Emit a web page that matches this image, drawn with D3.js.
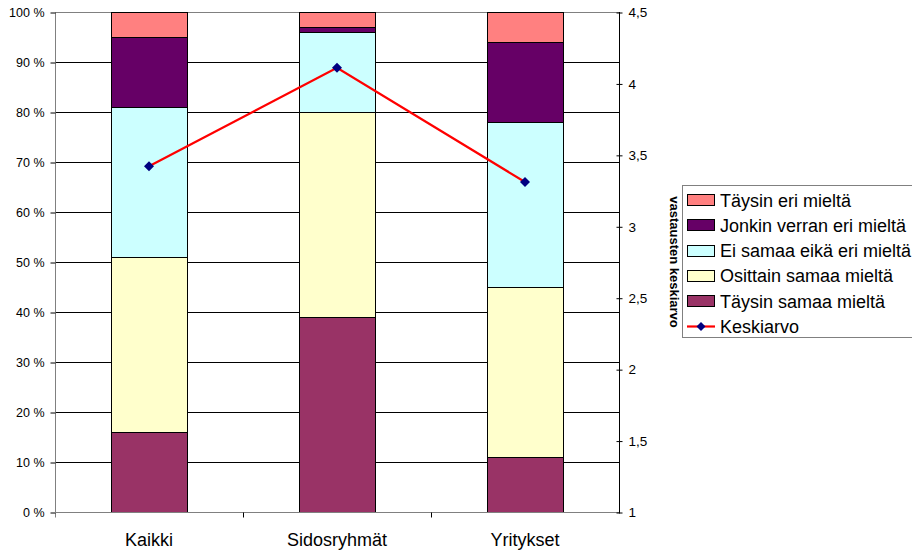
<!DOCTYPE html>
<html>
<head>
<meta charset="utf-8">
<script src="https://cdn.jsdelivr.net/npm/d3@7"></script>
<style>
  body { margin: 0; background: #fff; }
  svg { display: block; font-family: "Liberation Sans", Arial, sans-serif; }
</style>
</head>
<body>
<svg id="chart" width="912" height="550"></svg>
<script>
// Categories and answer distribution (% of respondents)
const categories = ["Kaikki", "Sidosryhmät", "Yritykset"];
const seriesNames = ["Täysin samaa mieltä", "Osittain samaa mieltä", "Ei samaa eikä eri mieltä", "Jonkin verran eri mieltä", "Täysin eri mieltä"];
const seriesColors = ["#993366", "#FFFFCC", "#CCFFFF", "#660066", "#FF8080"];
const taysinSamaa = [16, 39, 11];
const osittainSamaa = [35, 41, 34];
const eiSamaaEikaEri = [30, 16, 33];
const jonkinVerranEri = [14, 1, 16];
const taysinEri = [5, 3, 6];
// Average of answers (right axis)
const keskiarvo = [3.42, 4.11, 3.31];
const leftTicks = [0, 10, 20, 30, 40, 50, 60, 70, 80, 90, 100];
const rightTicks = [1, 1.5, 2, 2.5, 3, 3.5, 4, 4.5];

const seriesValues = [taysinSamaa, osittainSamaa, eiSamaaEikaEri, jonkinVerranEri, taysinEri];
const rows = categories.map((c, i) => {
  const r = { cat: c };
  seriesNames.forEach((s, k) => r[s] = seriesValues[k][i]);
  return r;
});

const svg = d3.select("#chart");
const plotL = 55, plotR = 619, plotT = 12, plotB = 512;

const x = d3.scaleBand().domain(categories).range([plotL, plotR]).paddingInner(0).paddingOuter(0);
const y = d3.scaleLinear().domain([0, 100]).range([plotB, plotT]);
const y2 = d3.scaleLinear().domain([1, 4.5]).range([plotB, plotT]);

// Gridlines
svg.append("g").selectAll("line").data(leftTicks.filter(t => t > 0)).join("line")
  .attr("x1", plotL).attr("x2", plotR)
  .attr("y1", d => Math.round(y(d)) + 0.5).attr("y2", d => Math.round(y(d)) + 0.5)
  .attr("stroke", d => d === 100 ? "#808080" : "#000").attr("stroke-width", 1);

// Stacked bars
const stack = d3.stack().keys(seriesNames)(rows);
const barW = 76;
svg.append("g").selectAll("g").data(stack).join("g")
  .attr("fill", (d, i) => seriesColors[i])
  .selectAll("rect").data(d => d).join("rect")
  .attr("x", d => Math.round(x(d.data.cat) + x.bandwidth() / 2 - barW / 2) + 0.5)
  .attr("width", barW)
  .attr("y", d => Math.round(y(d[1])) + 0.5)
  .attr("height", d => Math.round(y(d[0])) - Math.round(y(d[1])))
  .attr("stroke", "#000").attr("stroke-width", 1);

// Left axis
const yAxis = d3.axisLeft(y).tickValues(leftTicks).tickFormat(d => d + " %").tickSize(5).tickPadding(6);
const gy = svg.append("g").attr("transform", `translate(${plotL + 0.5},0.5)`).call(yAxis);
gy.select(".domain").attr("stroke", "#808080").attr("d", `M0,${plotT - 0.5}V${plotB + 5}`);
gy.selectAll(".tick line").attr("stroke", "#000");
gy.selectAll(".tick text").attr("font-size", 12.5).attr("fill", "#000").attr("font-family", "Liberation Sans, Arial, sans-serif");

// Bottom axis
const gx = svg.append("g").attr("transform", `translate(0,${plotB + 0.5})`);
gx.append("line").attr("x1", plotL).attr("x2", plotR + 1).attr("stroke", "#808080");
gx.selectAll("line.t").data([categories[1], categories[2]]).join("line").attr("class", "t")
  .attr("x1", d => Math.round(x(d)) + 0.5).attr("x2", d => Math.round(x(d)) + 0.5)
  .attr("y1", 0).attr("y2", 5).attr("stroke", "#000");
gx.selectAll("text").data(categories).join("text")
  .attr("x", d => x(d) + x.bandwidth() / 2).attr("y", 33.5)
  .attr("text-anchor", "middle").attr("font-size", 18).attr("fill", "#000").text(d => d);

// Right axis
const y2Axis = d3.axisRight(y2).tickValues(rightTicks).tickFormat(d => String(d).replace(".", ",")).tickSize(3).tickPadding(6);
const gy2 = svg.append("g").attr("transform", `translate(${plotR + 0.5},0.5)`).call(y2Axis);
gy2.select(".domain").attr("stroke", "#000").attr("d", `M0,${plotT - 0.5}V${plotB + 1}`);
gy2.selectAll(".tick line").attr("x1", -3).attr("stroke", "#000");
gy2.selectAll(".tick text").attr("font-size", 13.5).attr("fill", "#000").attr("font-family", "Liberation Sans, Arial, sans-serif");

svg.append("text")
  .attr("transform", `translate(670,${(plotT + plotB) / 2}) rotate(90)`)
  .attr("text-anchor", "middle").attr("font-size", 13).attr("font-weight", "bold")
  .text("vastausten keskiarvo");

// Average line with diamond markers
const line = d3.line().x((d, i) => x(categories[i]) + x.bandwidth() / 2).y(d => y2(d));
svg.append("path").datum(keskiarvo).attr("d", line)
  .attr("fill", "none").attr("stroke", "#FF0000").attr("stroke-width", 2.2);
svg.append("g").selectAll("path").data(keskiarvo).join("path")
  .attr("transform", (d, i) => `translate(${x(categories[i]) + x.bandwidth() / 2},${y2(d)})`)
  .attr("d", "M0,-5L5,0L0,5L-5,0Z").attr("fill", "#000080");

// Legend
const lg = svg.append("g");
lg.append("rect").attr("x", 682.5).attr("y", 185.5).attr("width", 240).attr("height", 152)
  .attr("fill", "#fff").attr("stroke", "#808080");
const legendItems = seriesNames.map((s, i) => ({ name: s, color: seriesColors[i] })).reverse();
const rowY = i => 200 + i * 25.3;
legendItems.forEach((d, i) => {
  const cy = rowY(i);
  lg.append("rect").attr("x", 687.5).attr("y", Math.round(cy - 6) + 0.5).attr("width", 27).attr("height", 11)
    .attr("fill", d.color).attr("stroke", "#000");
  lg.append("text").attr("x", 720).attr("y", cy + 6.5).attr("font-size", 18).text(d.name);
});
const ky = rowY(5);
lg.append("line").attr("x1", 687).attr("x2", 715).attr("y1", ky).attr("y2", ky).attr("stroke", "#FF0000").attr("stroke-width", 2.2);
lg.append("path").attr("transform", `translate(701,${ky})`).attr("d", "M0,-4.5L4.5,0L0,4.5L-4.5,0Z").attr("fill", "#000080");
lg.append("text").attr("x", 720).attr("y", ky + 6.5).attr("font-size", 18).text("Keskiarvo");
</script>
</body>
</html>
